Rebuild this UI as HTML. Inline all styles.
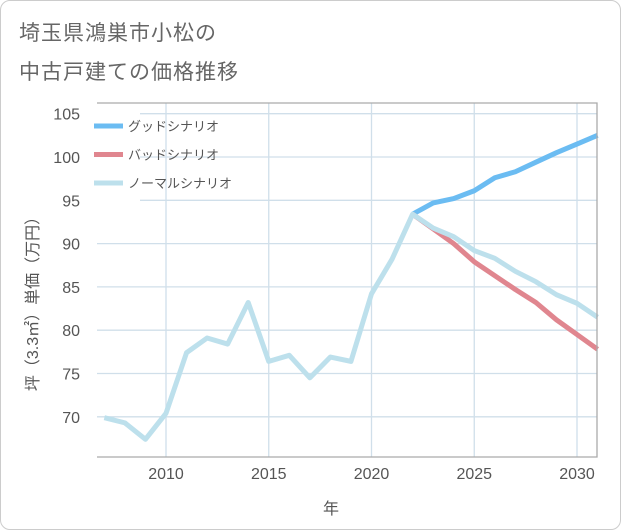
<!DOCTYPE html>
<html><head><meta charset="utf-8"><style>
body{margin:0;background:#fff;font-family:"Liberation Sans","Noto Sans CJK JP",sans-serif;}
#card{position:absolute;left:0;top:0;width:619px;height:528px;border:1px solid #ccc;border-radius:10px;background:#fff;}
.title{position:absolute;left:18px;font-size:21px;color:#666;letter-spacing:1px;}
</style></head><body>
<div id="card">
<div class="title" style="top:16px">埼玉県鴻巣市小松の</div>
<div class="title" style="top:55px">中古戸建ての価格推移</div>
</div>
<svg id="chart" width="621" height="530" style="position:absolute;left:0;top:0">
<g id="grid"></g><g id="series"></g><g id="axes"></g><g id="legend"></g>
<text x="331" y="514" text-anchor="middle" font-size="16" fill="#555">年</text>
<text transform="translate(38,300) rotate(-90)" text-anchor="middle" font-size="16" fill="#555">坪（3.3㎡）単価（万円）</text>
</svg>
<script>
const years=[2007,2008,2009,2010,2011,2012,2013,2014,2015,2016,2017,2018,2019,2020,2021,2022,2023,2024,2025,2026,2027,2028,2029,2030,2031];
const normalValues=[69.9,69.3,67.4,70.4,77.4,79.1,78.4,83.2,76.4,77.1,74.5,76.9,76.4,84.2,88.2,93.4,91.8,90.8,89.2,88.3,86.8,85.6,84.1,83.1,81.5];
const futureYears=[2022,2023,2024,2025,2026,2027,2028,2029,2030,2031];
const goodValues=[93.4,94.7,95.2,96.1,97.6,98.3,99.4,100.5,101.5,102.5];
const badValues=[93.4,91.7,90.0,87.9,86.3,84.7,83.2,81.2,79.5,77.8];
const xTicks=[2010,2015,2020,2025,2030];
const yTicks=[70,75,80,85,90,95,100,105];
const legendLabels=["グッドシナリオ","バッドシナリオ","ノーマルシナリオ"];
const L=97,R=597,T=103,B=457;
const x=v=>166+(v-2010)*20.55;
const y=v=>157+(100-v)*8.66;
const NS="http://www.w3.org/2000/svg";
function mk(tag,attrs,parent){const e=document.createElementNS(NS,tag);for(const k in attrs)e.setAttribute(k,attrs[k]);document.getElementById(parent).appendChild(e);return e;}
for(const t of xTicks){
 const l=mk('line',{x1:x(t),x2:x(t),y1:T,y2:B,stroke:'#d0dfea','stroke-width':1.3},'grid');
 
 
 const tx=mk('text',{x:x(t),y:479,'text-anchor':'middle','font-size':16,fill:'#555'},'axes');tx.textContent=t;
 
 
}
for(const t of yTicks){
 const l=mk('line',{x1:(t>=95?140:L),x2:R,y1:y(t),y2:y(t),stroke:'#d0dfea','stroke-width':1.3},'grid');
 
 
 const tx=mk('text',{x:80,y:y(t)+6,'text-anchor':'end','font-size':16,fill:'#555'},'axes');tx.textContent=t;
 
 
}
const fr=mk('path',{d:`M${L},${T}H${R}V${B}H${L}`,fill:'none',stroke:'#aaa','stroke-width':1.3},'axes');


function line(xs,vs,color,name){
 const p=mk('polyline',{points:xs.map((v,i)=>x(v)+','+y(vs[i])).join(' '),fill:'none',stroke:color,'stroke-width':5,'stroke-linejoin':'round'},'series');
 
 
}
line(futureYears,goodValues,'#6bbcf2','good-scenario-line');
line(futureYears,badValues,'#e0868f','bad-scenario-line');
line(years,normalValues,'#bde0ec','normal-scenario-line');
const lc=['#6bbcf2','#e0868f','#bde0ec'];
legendLabels.forEach((lab,i)=>{
 const yy=126+i*28.5;
 const s=mk('line',{x1:94,x2:123,y1:yy,y2:yy,stroke:lc[i],'stroke-width':5},'legend');
 
 
 const t=mk('text',{x:128,y:yy+5,'font-size':13,fill:'#555'},'legend');t.textContent=lab;
 
 
});
</script>
</body></html>
